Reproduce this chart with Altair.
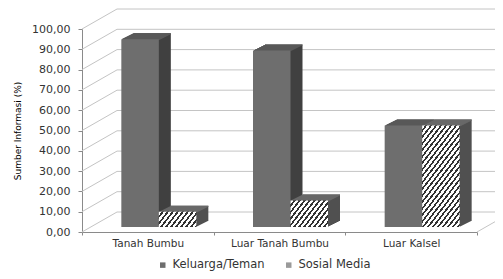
import math
import altair as alt
import pandas as pd

# ---------------- data ----------------
categories = ["Tanah Bumbu", "Luar Tanah Bumbu", "Luar Kalsel"]
series = ["Keluarga/Teman", "Sosial Media"]
keluarga = [92.5, 87.0, 50.0]
sosial = [7.5, 13.0, 50.0]
y_ticks = [0, 10, 20, 30, 40, 50, 60, 70, 80, 90, 100]

# ---------------- style ----------------
FONT = "DejaVu Sans"
W, H = 395, 203
WALL_DX, WALL_DY = 35, -20
BAR_DX, BAR_DY = 11, -5
EXT_DX, EXT_DY = 12, -6
STEPS = 12
BAR_W = 37.5
GRID = "#c4c4c4"
AXIS = "#8a8a8a"
KEL_FRONT = "#6e6e6e"
KEL_SIDE = "#404040"
KEL_TOP = "#585858"
SOS_SIDE = "#505050"
SOS_TOP = "#686868"
SOS_LEGEND = "#9a9a9a"
LIGHT = "#ffffff"
DARK = "#333333"

rows = []
for c, k, s in zip(categories, keluarga, sosial):
    rows.append({"cat": c, "ser": series[0], "val": k})
    rows.append({"cat": c, "ser": series[1], "val": s})
bars = pd.DataFrame(rows)
bars["top"] = bars["val"] - 0.6
ticks = pd.DataFrame({"v": y_ticks})

yscale = alt.Scale(domain=[0, 100], nice=False, zero=True)
xscale = alt.Scale(domain=categories, paddingInner=0, paddingOuter=0)

yaxis = alt.Axis(
    values=y_ticks, title="Sumber Informasi (%)",
    labelExpr="replace(format(datum.value, '.2f'), '.', ',')",
    labelFont=FONT, labelFontSize=11, labelColor="#333333", labelPadding=8,
    tickSize=4, tickColor=AXIS, domainColor=AXIS, grid=False,
    titleFont=FONT, titleFontSize=9, titleFontWeight="normal", titleColor="#000000",
    titleAngle=270, titleX=-65, titleY=H / 2, titleAlign="center", titleBaseline="middle",
)
xaxis = alt.Axis(
    title=None, labelFont=FONT, labelFontSize=10.5, labelColor="#333333",
    labelPadding=3, tickSize=3, tickColor=AXIS, domainColor=AXIS,
    tickBand="extent", labelAngle=0, grid=False,
)


def Y(field):
    return alt.Y(field, scale=yscale, axis=yaxis)


def X():
    return alt.X("cat:N", scale=xscale, axis=xaxis)


# ---------------- walls ----------------
back = alt.Chart(ticks).mark_rule(color=GRID, strokeWidth=1, yOffset=WALL_DY).encode(
    x=alt.value(WALL_DX), x2=alt.value(W + 60), y=Y("v:Q"),
)
diag = alt.Chart(ticks).mark_rule(color=GRID, strokeWidth=1, y2Offset=WALL_DY).encode(
    x=alt.value(0), x2=alt.value(WALL_DX), y=Y("v:Q"), y2="v:Q",
)
floor_edge = alt.Chart(ticks).transform_filter("datum.v == 0").mark_rule(
    color=GRID, strokeWidth=1, y2Offset=WALL_DY
).encode(
    x=alt.value(W), x2=alt.value(W + WALL_DX), y=Y("v:Q"), y2="v:Q",
)

SER_SHIFT = {series[0]: -BAR_W / 2, series[1]: BAR_W / 2}


def ext_layer(ser, k, color, strip=False):
    dx = SER_SHIFT[ser] + BAR_DX + EXT_DX * k / STEPS
    dy = BAR_DY + EXT_DY * k / STEPS
    m = alt.Chart(bars).transform_filter(alt.datum.ser == ser).mark_bar(
        color=color, width=BAR_W, xOffset=dx, x2Offset=dx, yOffset=dy, y2Offset=dy
    )
    enc = dict(x=X(), y=Y("val:Q"))
    if strip:
        enc["y2"] = alt.Y2("top:Q")
    return m.encode(**enc)


layers = [back, diag, floor_edge]
for ser, side, top in [(series[0], KEL_SIDE, KEL_TOP), (series[1], SOS_SIDE, SOS_TOP)]:
    for k in range(1, STEPS + 1):
        layers.append(ext_layer(ser, k, side))
    for k in range(1, STEPS + 1):
        layers.append(ext_layer(ser, k, top, strip=True))

legend = alt.Legend(
    orient="none", legendX=75, legendY=230, direction="horizontal", title=None,
    symbolType="square", symbolSize=30, symbolStrokeWidth=0, labelFont=FONT,
    labelFontSize=11.5, labelColor="#333333", columnPadding=18, labelOffset=4, padding=0,
)

kdx = SER_SHIFT[series[0]] + BAR_DX
front_kel = alt.Chart(bars).transform_filter(alt.datum.ser == series[0]).mark_bar(
    width=BAR_W, xOffset=kdx, x2Offset=kdx, yOffset=BAR_DY, y2Offset=BAR_DY
).encode(
    x=X(), y=Y("val:Q"),
    color=alt.Color("ser:N", scale=alt.Scale(domain=series, range=[KEL_FRONT, SOS_LEGEND]),
                    legend=legend),
)
layers.append(front_kel)


def stripes(w, h, slope=1.3, period=5.0, dark_frac=0.42):
    cmax = slope * w + h
    kf = cmax / (slope * slope * w * w + h * h)
    n = cmax / (slope * period)
    stops = []
    i = 0
    while i < n:
        t0 = min(i / n, 1)
        tm = min((i + 1 - dark_frac) / n, 1)
        t1 = min((i + 1) / n, 1)
        stops += [alt.GradientStop(color=LIGHT, offset=t0), alt.GradientStop(color=LIGHT, offset=tm),
                  alt.GradientStop(color=DARK, offset=tm), alt.GradientStop(color=DARK, offset=t1)]
        i += 1
    return alt.LinearGradient(gradient="linear", stops=stops, x1=0, y1=0,
                              x2=slope * w * kf, y2=h * kf)


sdx = SER_SHIFT[series[1]] + BAR_DX
for c, s in zip(categories, sosial):
    h = s * H / 100.0
    layers.append(
        alt.Chart(bars).transform_filter((alt.datum.ser == series[1]) & (alt.datum.cat == c)).mark_bar(
            fill=stripes(BAR_W, h), width=BAR_W, xOffset=sdx, x2Offset=sdx,
            yOffset=BAR_DY, y2Offset=BAR_DY
        ).encode(x=X(), y=Y("val:Q"))
    )

chart = alt.layer(*layers).properties(
    width=W, height=H,
    autosize=alt.AutoSizeParams(type="none"),
    padding={"left": 74, "top": 21, "right": 18, "bottom": 39},
    background="white",
).configure_view(stroke=None)

chart.save("out.html", embed_options={"renderer": "svg", "actions": False})
